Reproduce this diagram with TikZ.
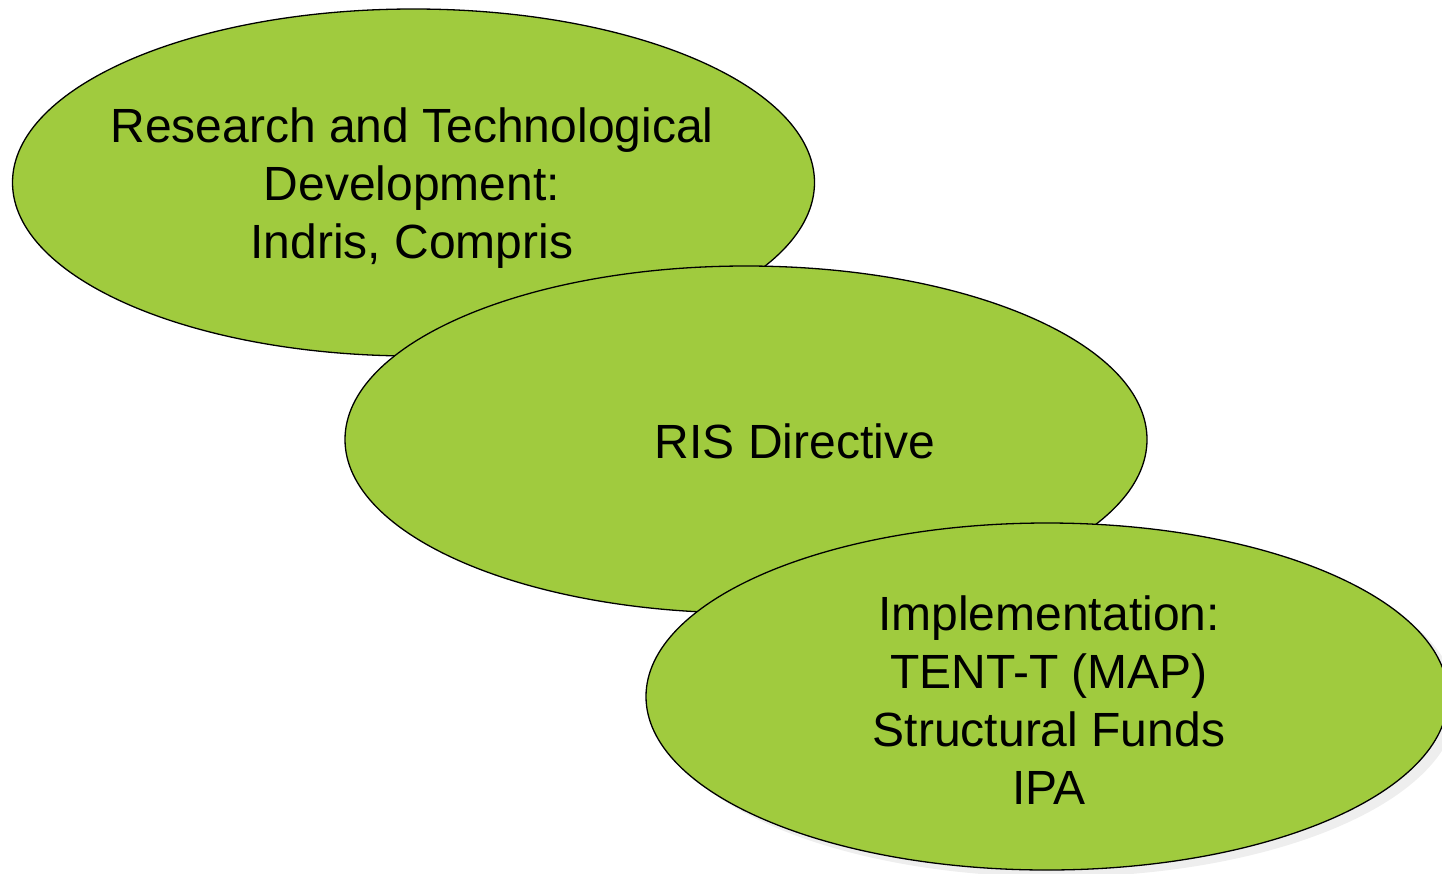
\documentclass[tikz,border=0pt]{standalone}
\usepackage{fontspec}
\setmainfont{Liberation Sans}
\usetikzlibrary{shapes.geometric}
\definecolor{leaf}{HTML}{A0CB3E}
\definecolor{shade}{HTML}{EEEEEE}
\tikzset{
  blob/.style={ellipse, draw=black, line width=1.3pt, fill=leaf, inner sep=0pt, minimum width=802pt, minimum height=347pt},
  shadowblob/.style={ellipse, fill=shade, inner sep=0pt, minimum width=802pt, minimum height=347pt},
  label/.style={align=center, font=\fontsize{48}{58}\selectfont, text=black, inner sep=0pt}
}
\begin{document}
\begin{tikzpicture}[x=1pt,y=-1pt]
\useasboundingbox (0,0) rectangle (1442,873);
\node[blob] (e1) at (413.5,182.5) {};
\node[blob] (e2) at (746,439.5) {};
\node[shadowblob] (s3) at (1056,703.5) {};
\node[blob] (e3) at (1047,696.5) {};
\node[label] (t1) at (412,188) {Research and Technological\\Development:\\Indris, Compris};
\node[label] (t2) at (795,441) {RIS Directive};
\node[label] (t3) at (1049,700) {Implementation:\\TENT-T (MAP)\\Structural Funds\\IPA};
\end{tikzpicture}
\end{document}
